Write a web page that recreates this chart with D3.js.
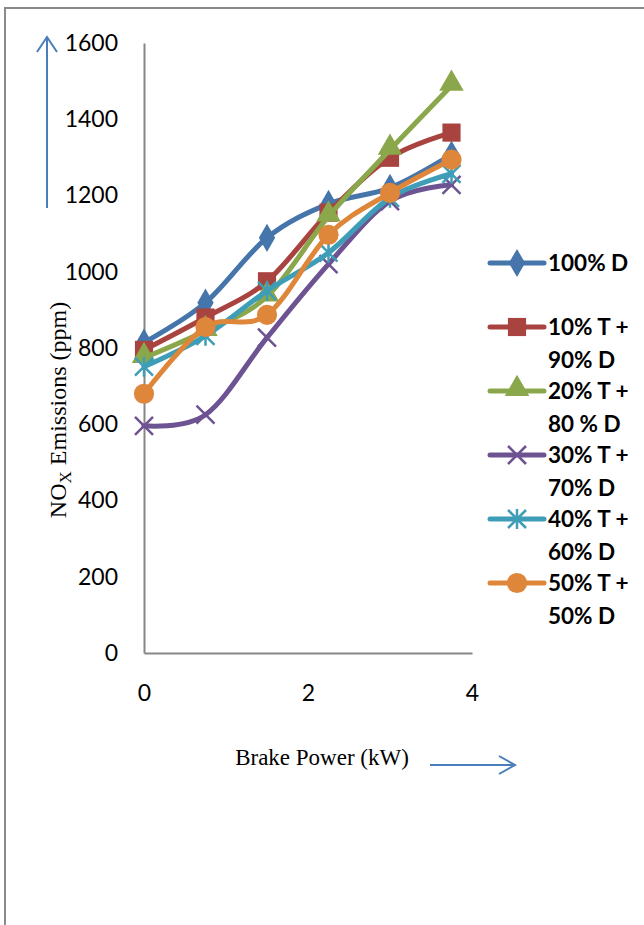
<!DOCTYPE html>
<html>
<head>
<meta charset="utf-8">
<script src="https://cdn.jsdelivr.net/npm/d3@7"></script>
<style>
  body { margin: 0; background: #fff; }
  svg { display: block; }
</style>
</head>
<body>
<div id="chart"></div>
<script>
// brake power (kW) and NOx (ppm) for each blend
var power = [0, 0.75, 1.5, 2.25, 3, 3.75];
var d100 = [814, 919, 1089, 1178, 1220, 1307];
var t10 = [795, 880, 975, 1155, 1299, 1365];
var t20 = [774, 845, 935, 1145, 1320, 1488];
var t30 = [596, 625, 827, 1020, 1185, 1228];
var t40 = [751, 832, 950, 1050, 1194, 1257];
var t50 = [680, 855, 887, 1097, 1207, 1294];
var seriesNames = [["100% D", ""], ["10% T +", "90% D"], ["20% T +", "80 % D"],
                   ["30% T +", "70% D"], ["40% T +", "60% D"], ["50% T +", "50% D"]];
var yTicks = [0, 200, 400, 600, 800, 1000, 1200, 1400, 1600];
var xTicks = [0, 2, 4];

var colors = ["#4675ab", "#a9433f", "#8ba74c", "#6e5393", "#3e9db7", "#de8639"];
var markers = ["diamond", "square", "triangle", "x", "star", "circle"];
var values = [d100, t10, t20, t30, t40, t50];

var width = 644, height = 925;
var svg = d3.select("#chart").append("svg")
            .attr("width", width)
            .attr("height", height);

// outer frame (only left and top edges are visible)
svg.append("path")
   .attr("d", "M5,925 L5,8 L644,8")
   .attr("fill", "none")
   .attr("stroke", "#8a8a8a")
   .attr("stroke-width", 2);

var x = d3.scaleLinear().domain([0, 4]).range([144, 472]);
var y = d3.scaleLinear().domain([0, 1600]).range([653, 43]);

// axes
var yAxis = svg.append("g")
               .attr("transform", "translate(" + x(0) + ",0)")
               .call(d3.axisLeft(y).tickValues(yTicks).tickSize(0).tickPadding(26).tickFormat(d3.format("d")));
var xAxis = svg.append("g")
               .attr("transform", "translate(0," + y(0) + ")")
               .call(d3.axisBottom(x).tickValues(xTicks).tickSize(0).tickPadding(32).tickFormat(d3.format("d")));
[yAxis, xAxis].forEach(function(g){
    g.select(".domain").attr("stroke", "#868686").attr("stroke-width", 2);
    g.selectAll("text")
     .style("font-family", "Lato, 'Open Sans', sans-serif")
     .style("font-size", "23px")
     .attr("fill", "#000");
});

// series
var line = d3.line()
             .x(function(d){ return x(d[0]); })
             .y(function(d){ return y(d[1]); })
             .curve(d3.curveCatmullRom.alpha(0));

function drawMarker(g, kind, cx, cy, color){
    if (kind == "x" || kind == "star") {
        var s = 9;
        var p = "M" + (cx-s) + "," + (cy-s) + "L" + (cx+s) + "," + (cy+s) +
                "M" + (cx-s) + "," + (cy+s) + "L" + (cx+s) + "," + (cy-s);
        if (kind == "star") p += "M" + cx + "," + (cy-s-1) + "L" + cx + "," + (cy+s+1);
        g.append("path").attr("d", p)
         .attr("stroke", color).attr("stroke-width", 2.5).attr("fill", "none");
        return;
    }
    var sym = {diamond: d3.symbolDiamond, square: d3.symbolSquare,
               triangle: d3.symbolTriangle, circle: d3.symbolCircle}[kind];
    var size = {diamond: 230, square: 330, triangle: 260, circle: 320}[kind];
    g.append("path")
     .attr("d", d3.symbol().type(sym).size(size)())
     .attr("transform", "translate(" + cx + "," + (kind == "triangle" ? cy - 2 : cy) + ")")
     .attr("fill", color);
}

values.forEach(function(vals, i){
    var pts = power.map(function(p, j){ return [p, vals[j]]; });
    var g = svg.append("g");
    g.append("path")
     .attr("d", line(pts))
     .attr("fill", "none")
     .attr("stroke", colors[i])
     .attr("stroke-width", 5)
     .attr("stroke-linejoin", "round")
     .attr("stroke-linecap", "round");
    pts.forEach(function(d){
        drawMarker(g, markers[i], x(d[0]), y(d[1]), colors[i]);
    });
});

// legend
var legend = svg.append("g");
seriesNames.forEach(function(name, i){
    var ly = 263 + i * 64;
    legend.append("line")
          .attr("x1", 490).attr("x2", 544)
          .attr("y1", ly).attr("y2", ly)
          .attr("stroke", colors[i])
          .attr("stroke-width", 5)
          .attr("stroke-linecap", "round");
    drawMarker(legend, markers[i], 517, ly, colors[i]);
    name.forEach(function(t, k){
        legend.append("text")
              .attr("x", 548)
              .attr("y", ly + 8 + k * 33)
              .style("font-family", "Lato, 'Open Sans', sans-serif")
              .style("font-weight", "bold")
              .style("font-size", "22.5px")
              .text(t);
    });
});

// axis titles
var yTitle = svg.append("text")
                .attr("transform", "translate(66,410) rotate(-90)")
                .attr("text-anchor", "middle")
                .style("font-family", "'Liberation Serif', 'Times New Roman', serif")
                .style("font-size", "24px");
yTitle.append("tspan").text("NO");
yTitle.append("tspan").attr("dy", 5).style("font-size", "17px").text("X");
yTitle.append("tspan").attr("dy", -5).text(" Emissions (ppm)");

svg.append("text")
   .attr("x", 322).attr("y", 765)
   .attr("text-anchor", "middle")
   .style("font-family", "'Liberation Serif', 'Times New Roman', serif")
   .style("font-size", "23px")
   .text("Brake Power (kW)");

// arrows next to the titles
var arrowColor = "#4a7ebb";
svg.append("path")
   .attr("d", "M47,208 L47,37 M37,52 L47,37 L57,52")
   .attr("fill", "none").attr("stroke", arrowColor).attr("stroke-width", 2);
svg.append("path")
   .attr("d", "M430,765 L515,765 M499,756 L515,765 L499,774")
   .attr("fill", "none").attr("stroke", arrowColor).attr("stroke-width", 2);
</script>
</body>
</html>
